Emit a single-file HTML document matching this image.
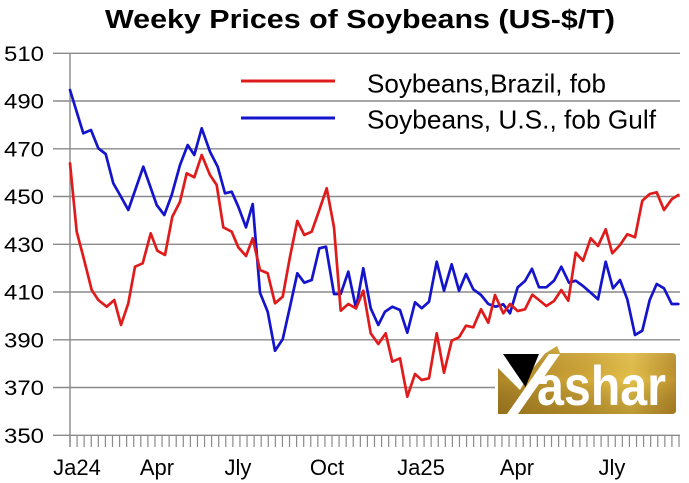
<!DOCTYPE html>
<html>
<head>
<meta charset="utf-8">
<style>
  html,body{margin:0;padding:0;background:#fff;}
  svg{display:block;}
  text{font-family:"Liberation Sans", Arial, sans-serif;}
</style>
</head>
<body>
<svg width="689" height="483" viewBox="0 0 689 483" xmlns="http://www.w3.org/2000/svg">
  <defs>
    <linearGradient id="gold" x1="0" y1="0" x2="1" y2="0">
      <stop offset="0" stop-color="#b08828"/>
      <stop offset="0.5" stop-color="#d2a838"/>
      <stop offset="0.75" stop-color="#e6c24c"/>
      <stop offset="1" stop-color="#bf922e"/>
    </linearGradient>
    <linearGradient id="shade" x1="0" y1="0" x2="0" y2="1">
      <stop offset="0" stop-color="#fff3c0" stop-opacity="0.15"/>
      <stop offset="0.5" stop-color="#000" stop-opacity="0"/>
      <stop offset="1" stop-color="#5a3c00" stop-opacity="0.3"/>
    </linearGradient>
  </defs>
  <rect width="689" height="483" fill="#fff"/>

  <!-- Title -->
  <text x="105" y="28" font-size="25.5" font-weight="bold" fill="#000" textLength="510" lengthAdjust="spacingAndGlyphs">Weeky Prices of Soybeans (US-$/T)</text>

  <!-- Gridlines -->
  <g stroke="#8a8a8a" stroke-width="1.4">
    <line x1="53" y1="53.3" x2="680" y2="53.3"/>
    <line x1="53" y1="101" x2="680" y2="101"/>
    <line x1="53" y1="148.8" x2="680" y2="148.8"/>
    <line x1="53" y1="196.5" x2="680" y2="196.5"/>
    <line x1="53" y1="244.3" x2="680" y2="244.3"/>
    <line x1="53" y1="292" x2="680" y2="292"/>
    <line x1="53" y1="339.8" x2="680" y2="339.8"/>
    <line x1="53" y1="387.5" x2="680" y2="387.5"/>
    <line x1="53" y1="435.3" x2="680" y2="435.3"/>
    <line x1="70" y1="53.3" x2="70" y2="447"/>
  </g>

  <!-- X ticks -->
  <g stroke="#8a8a8a" stroke-width="1.2" id="ticks">
    <path d="M70 435 v12 M77.08 435 v12 M84.16 435 v12 M91.24 435 v12 M98.33 435 v12 M105.41 435 v12 M112.49 435 v12 M119.57 435 v12 M126.65 435 v12 M133.73 435 v12 M140.81 435 v12 M147.9 435 v12 M154.98 435 v12 M162.06 435 v12 M169.14 435 v12 M176.22 435 v12 M183.3 435 v12 M190.38 435 v12 M197.47 435 v12 M204.55 435 v12 M211.63 435 v12 M218.71 435 v12 M225.79 435 v12 M232.87 435 v12 M239.95 435 v12 M247.03 435 v12 M254.12 435 v12 M261.2 435 v12 M268.28 435 v12 M275.36 435 v12 M282.44 435 v12 M289.52 435 v12 M296.6 435 v12 M303.69 435 v12 M310.77 435 v12 M317.85 435 v12 M324.93 435 v12 M332.01 435 v12 M339.09 435 v12 M346.17 435 v12 M353.26 435 v12 M360.34 435 v12 M367.42 435 v12 M374.5 435 v12 M381.58 435 v12 M388.66 435 v12 M395.74 435 v12 M402.83 435 v12 M409.91 435 v12 M416.99 435 v12 M424.07 435 v12 M431.15 435 v12 M438.23 435 v12 M445.31 435 v12 M452.4 435 v12 M459.48 435 v12 M466.56 435 v12 M473.64 435 v12 M480.72 435 v12 M487.8 435 v12 M494.88 435 v12 M501.97 435 v12 M509.05 435 v12 M516.13 435 v12 M523.21 435 v12 M530.29 435 v12 M537.37 435 v12 M544.45 435 v12 M551.53 435 v12 M558.62 435 v12 M565.7 435 v12 M572.78 435 v12 M579.86 435 v12 M586.94 435 v12 M594.02 435 v12 M601.1 435 v12 M608.19 435 v12 M615.27 435 v12 M622.35 435 v12 M629.43 435 v12 M636.51 435 v12 M643.59 435 v12 M650.67 435 v12 M657.76 435 v12 M664.84 435 v12 M671.92 435 v12 M679 435 v12"/>
  </g>

  <!-- Y labels -->
  <g font-size="21" fill="#000" text-anchor="end">
    <text x="44" y="61" textLength="40" lengthAdjust="spacingAndGlyphs">510</text>
    <text x="44" y="108.7" textLength="40" lengthAdjust="spacingAndGlyphs">490</text>
    <text x="44" y="156.5" textLength="40" lengthAdjust="spacingAndGlyphs">470</text>
    <text x="44" y="204.2" textLength="40" lengthAdjust="spacingAndGlyphs">450</text>
    <text x="44" y="252" textLength="40" lengthAdjust="spacingAndGlyphs">430</text>
    <text x="44" y="299.7" textLength="40" lengthAdjust="spacingAndGlyphs">410</text>
    <text x="44" y="347.5" textLength="40" lengthAdjust="spacingAndGlyphs">390</text>
    <text x="44" y="395.2" textLength="40" lengthAdjust="spacingAndGlyphs">370</text>
    <text x="44" y="443" textLength="40" lengthAdjust="spacingAndGlyphs">350</text>
  </g>

  <!-- X labels -->
  <g font-size="22" fill="#000" text-anchor="middle">
    <text x="77" y="475">Ja24</text>
    <text x="157" y="475">Apr</text>
    <text x="238" y="475">Jly</text>
    <text x="327" y="475">Oct</text>
    <text x="421" y="475">Ja25</text>
    <text x="517" y="475">Apr</text>
    <text x="612" y="475">Jly</text>
  </g>

  <!-- Legend -->
  <line x1="241" y1="81" x2="335" y2="81" stroke="#e01b1b" stroke-width="3"/>
  <line x1="241" y1="118" x2="335" y2="118" stroke="#1414cc" stroke-width="3"/>
  <text x="367" y="92.5" font-size="26" fill="#000" textLength="239" lengthAdjust="spacingAndGlyphs">Soybeans,Brazil, fob</text>
  <text x="367" y="128.5" font-size="26" fill="#000" textLength="289" lengthAdjust="spacingAndGlyphs">Soybeans, U.S., fob Gulf</text>

  <!-- Blue series -->
  <polyline fill="none" stroke="#1414cc" stroke-width="2.7" stroke-linejoin="round" stroke-linecap="round"
    points="70,90 83.3,133.3 91,130 98.3,148.3 105.7,154 113.3,183.3 120,195 128.3,210 143.3,166.7 156.7,205 164.3,215 171.7,195 180,165 187.7,145 194.3,155 201.7,128.3 210,151.7 217.7,166.7 225,193.3 231.7,191.7 238.3,206.7 246,227.3 252.7,204 260,292.7 267.7,311.7 275,350.7 282.7,339.3 290,306.7 297.3,273.3 304.3,282.7 311.7,280 319.3,248.3 326,246.7 334,294 340.7,294 348.3,271.7 356,308.3 363.3,268.3 370.7,308.3 378.3,325 385,311.7 392.3,306.7 400,310 407.3,332.7 415,302.3 421.7,308.3 429,301.7 436.7,261.7 444,290.7 451.7,264.3 459,290.7 466,274 473.3,289.3 481,295 488.3,304 495.7,306.7 503.3,304.3 510,313.3 517.7,287.3 525,281 532,268.8 539,287.3 546.3,287.3 554,280.7 561.3,266.7 569,282.7 575.7,280.7 583,286 590.7,292.7 598,299.3 605.7,261.7 613,288.3 620,280 627.3,299.3 635,335 642.3,330.7 649.7,300 656.7,284 664,288.3 671.7,304 678.3,304"/>

  <!-- Red series -->
  <polyline fill="none" stroke="#e01b1b" stroke-width="2.7" stroke-linejoin="round" stroke-linecap="round"
    points="70,163.3 76.7,231.7 83.3,256.7 91.7,290 98.3,300 106.7,306.7 114.3,300 121,325 128.3,303.3 135,266.7 142.7,263.3 150.7,233.3 157.3,250.7 165,255 172.3,216.7 180,201.7 186.7,173.3 194.3,177.3 201.7,155 210,175 216.7,185 223.3,227.3 231.7,231.7 238.3,247.3 246,256 252.7,238.3 260,270 267.7,273.3 275,303.3 282.7,296.7 290,256.7 297.3,221 304.3,235 311.7,231.7 319.3,210 326.7,188.3 334,227.3 340.7,310.7 348.3,304 356,308.3 363.3,290.7 370.7,333.3 378.3,344 385.7,333.3 392.3,361.7 400,358.3 407.3,396.7 415,374 421.7,380 429,378.3 436.7,333.3 444,372.7 451.7,340.7 459,337.3 466,325.7 473.3,327.3 481,309.3 488.3,322.7 495,295 503.3,313.3 510,304 517.7,311 525,309.3 532.3,294.7 539,300 546.3,306 554,301 561.3,290 568.3,300.7 575.7,252.7 583,260.7 590.7,238.3 598,246 605.7,229.3 612.3,253.3 620,245 627.3,234.3 635,237.3 642.3,200.7 649.7,194 656.7,192.3 664,210 671.7,199.3 678.3,195"/>

  <!-- Logo -->
  <rect x="495" y="344" width="186" height="73" fill="#fff"/>
  <path d="M498 368 L520 390 L530 372 L545 353.5 L557 346 L560 353 L672 353 Q676 353 676 357 L676 410 Q676 414 672 414 L498 414 Z" fill="url(#gold)"/>
  <path d="M498 368 L520 390 L530 372 L545 353.5 L557 346 L560 353 L672 353 Q676 353 676 357 L676 410 Q676 414 672 414 L498 414 Z" fill="url(#shade)"/>
  <polygon points="503,354 539,354 525.5,387" fill="#000"/>
  <polygon points="507,414 518,414 560,354 549,354" fill="#fff"/>
  <text x="537" y="405" font-size="56" font-weight="bold" fill="#fff" textLength="129" lengthAdjust="spacingAndGlyphs">ashar</text>
</svg>
</body>
</html>
